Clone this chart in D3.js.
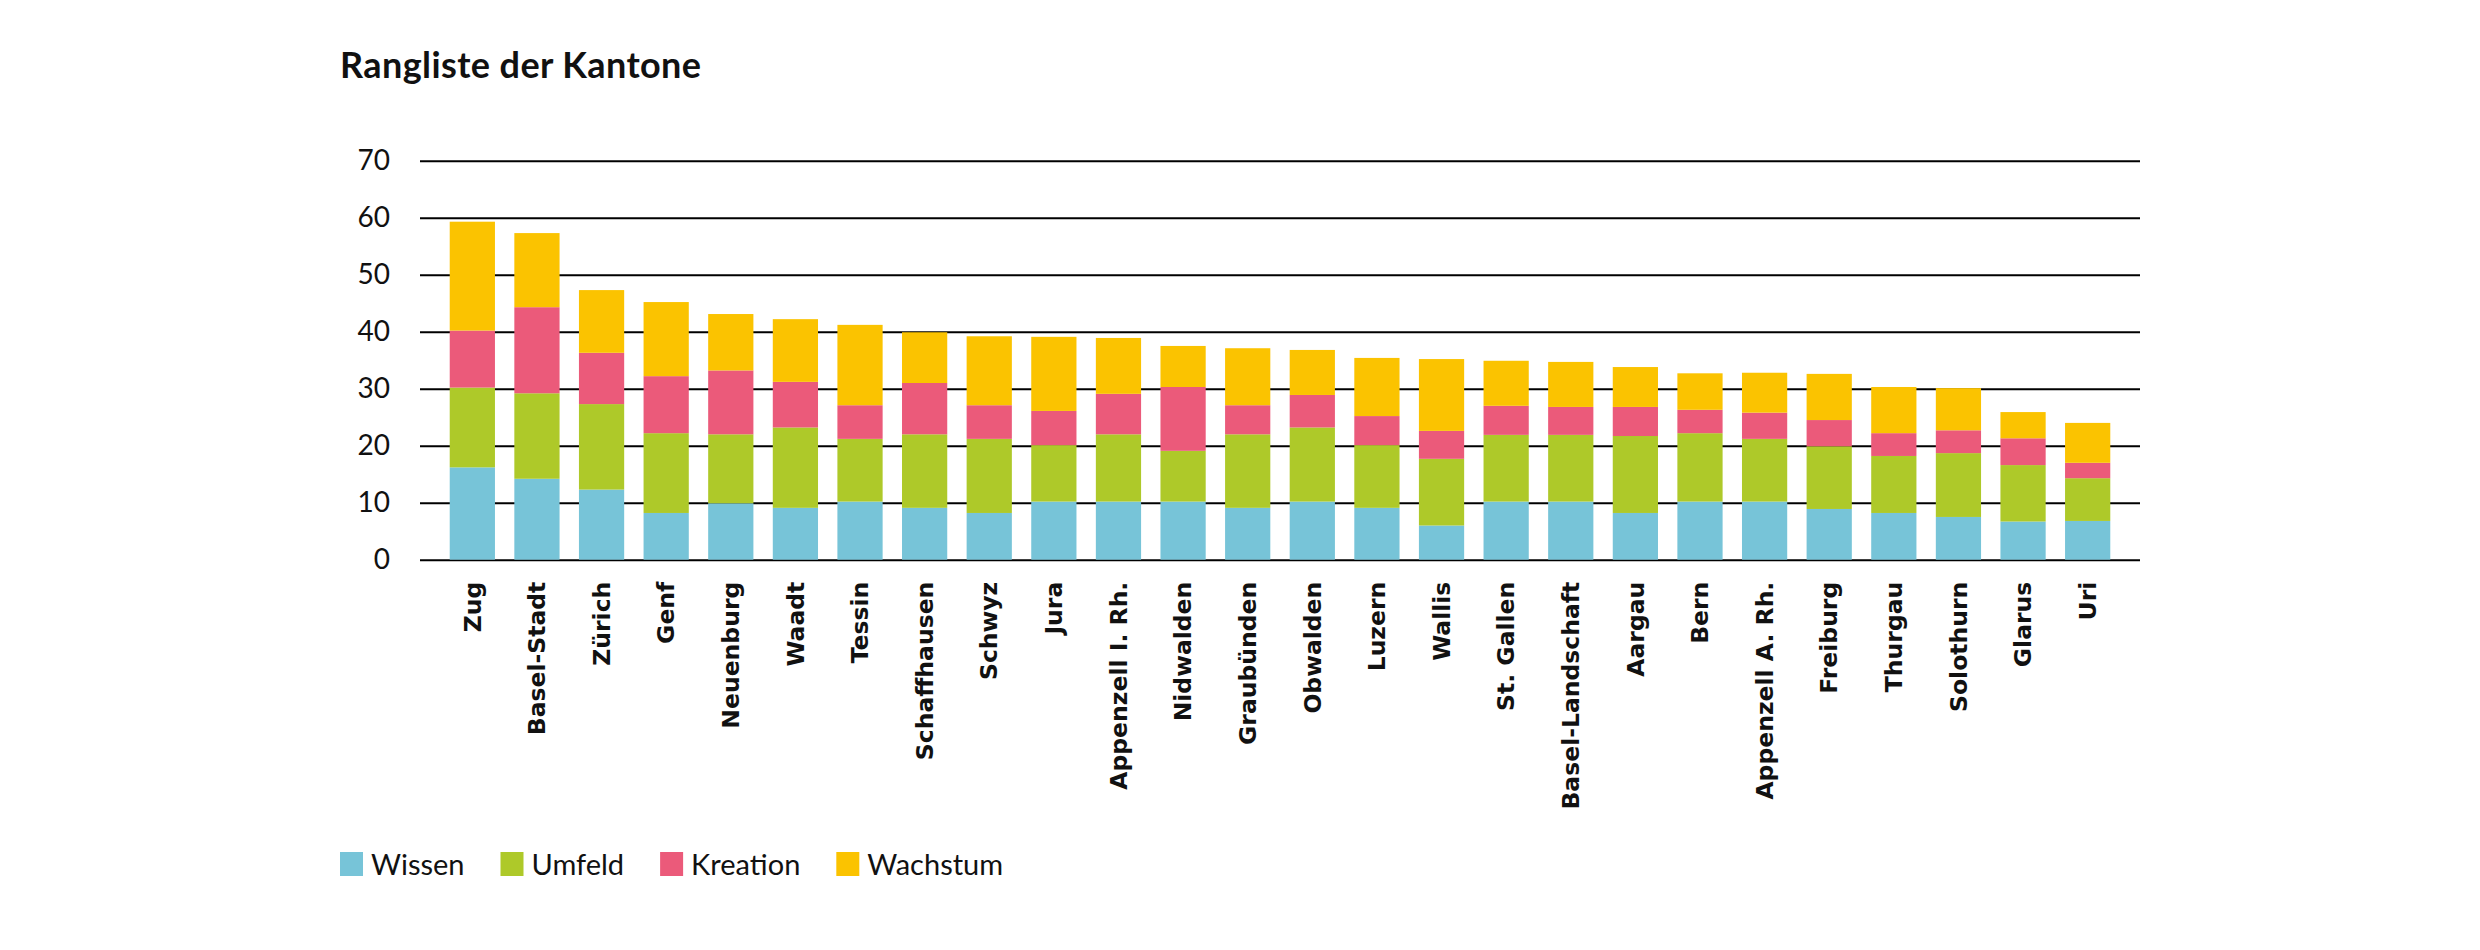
<!DOCTYPE html>
<html>
<head>
<meta charset="utf-8">
<script src="https://cdn.jsdelivr.net/npm/d3@7"></script>
<style>
  body { margin: 0; background: #fff; }
</style>
</head>
<body>
<svg width="2480" height="950"></svg>
<script>
const kantone = ["Zug", "Basel-Stadt", "Zürich", "Genf", "Neuenburg", "Waadt", "Tessin",
  "Schaffhausen", "Schwyz", "Jura", "Appenzell I. Rh.", "Nidwalden", "Graubünden", "Obwalden",
  "Luzern", "Wallis", "St. Gallen", "Basel-Landschaft", "Aargau", "Bern", "Appenzell A. Rh.",
  "Freiburg", "Thurgau", "Solothurn", "Glarus", "Uri"];

const wissen   = [16.2, 14.2, 12.3, 8.2, 9.9, 9.1, 10.2, 9.1, 8.2, 10.2, 10.2, 10.2, 9.1, 10.2,
  9.1, 6.0, 10.2, 10.2, 8.2, 10.2, 10.2, 8.9, 8.2, 7.5, 6.7, 6.8];
const umfeld   = [14.0, 15.0, 15.0, 14.0, 12.1, 14.1, 11.0, 12.9, 13.0, 9.9, 11.8, 8.9, 12.9, 13.0,
  11.0, 11.7, 11.7, 11.7, 13.5, 12.0, 11.0, 11.0, 10.0, 11.2, 9.9, 7.5];
const kreation = [10.0, 15.1, 9.0, 10.0, 11.2, 8.0, 5.9, 9.0, 5.9, 6.0, 7.1, 11.2, 5.1, 5.7,
  5.1, 4.9, 5.1, 4.9, 5.1, 4.1, 4.6, 4.6, 4.0, 4.0, 4.7, 2.7];
const wachstum = [19.1, 13.0, 11.0, 13.0, 9.9, 11.0, 14.1, 8.9, 12.1, 13.0, 9.8, 7.2, 10.0, 7.9,
  10.2, 12.6, 7.9, 7.9, 7.0, 6.4, 7.0, 8.1, 8.1, 7.4, 4.6, 7.0];

const serien = ["Wissen", "Umfeld", "Kreation", "Wachstum"];
const farben = ["#77c4d8", "#aec929", "#eb5a7a", "#fbc300"];
const yTicks = [0, 10, 20, 30, 40, 50, 60, 70];

const rows = kantone.map((k, i) => ({
  kanton: k,
  Wissen: wissen[i],
  Umfeld: umfeld[i],
  Kreation: kreation[i],
  Wachstum: wachstum[i]
}));

const svg = d3.select("svg");
const plotLeft = 420, plotRight = 2140, plotTop = 160.7, plotBottom = 559.7;

const x = d3.scaleBand()
  .domain(kantone)
  .range([plotLeft, plotRight])
  .paddingInner(0.3)
  .paddingOuter(0.46);

const y = d3.scaleLinear().domain([0, 70]).range([plotBottom, plotTop]);
const color = d3.scaleOrdinal().domain(serien).range(farben);

// title
svg.append("text")
  .attr("x", 340)
  .attr("y", 78)
  .text("Rangliste der Kantone")
  .attr("font-family", "Lato, sans-serif")
  .attr("font-size", "36px")
  .attr("font-weight", "700")
  .attr("letter-spacing", "0.4px")
  .attr("fill", "#111");

// grid + y labels
const yAxis = svg.append("g")
  .attr("transform", `translate(${plotLeft},0)`)
  .call(d3.axisLeft(y).tickValues(yTicks).tickSize(-(plotRight - plotLeft)).tickPadding(30));
yAxis.select(".domain").remove();
yAxis.selectAll(".tick line").attr("stroke", "#000").attr("stroke-width", 2);
yAxis.selectAll(".tick text")
  .attr("font-family", "Lato, sans-serif")
  .attr("font-size", "28px")
  .attr("fill", "#111");

// stacked bars
const stack = d3.stack().keys(serien)(rows);
svg.append("g")
  .selectAll("g")
  .data(stack)
  .join("g")
  .attr("fill", (d) => color(d.key))
  .selectAll("rect")
  .data((d) => d)
  .join("rect")
  .attr("x", (d) => x(d.data.kanton))
  .attr("width", x.bandwidth())
  .attr("y", (d) => y(d[1]))
  .attr("height", (d) => y(d[0]) - y(d[1]));

// x labels
const xAxis = svg.append("g")
  .attr("transform", `translate(0,${plotBottom})`)
  .call(d3.axisBottom(x).tickSize(0).tickPadding(0));
xAxis.select(".domain").remove();
xAxis.selectAll(".tick text")
  .attr("transform", "translate(0,22) rotate(-90)")
  .attr("x", 0)
  .attr("y", 0)
  .attr("dy", "0.35em")
  .attr("text-anchor", "end")
  .attr("font-family", "DejaVu Sans, sans-serif")
  .attr("font-weight", "700")
  .attr("font-size", "23.5px")
  .attr("fill", "#111");

// legend
const legend = svg.append("g");
let lx = 340;
serien.forEach((s) => {
  legend.append("rect")
    .attr("x", lx)
    .attr("y", 852)
    .attr("width", 23)
    .attr("height", 24)
    .attr("fill", color(s));
  const t = legend.append("text")
    .attr("x", lx + 31)
    .attr("y", 875)
    .text(s)
    .attr("font-family", "Lato, sans-serif")
    .attr("font-size", "29px")
    .attr("fill", "#111");
  lx += 31 + t.node().getComputedTextLength() + 36;
});
</script>
</body>
</html>
